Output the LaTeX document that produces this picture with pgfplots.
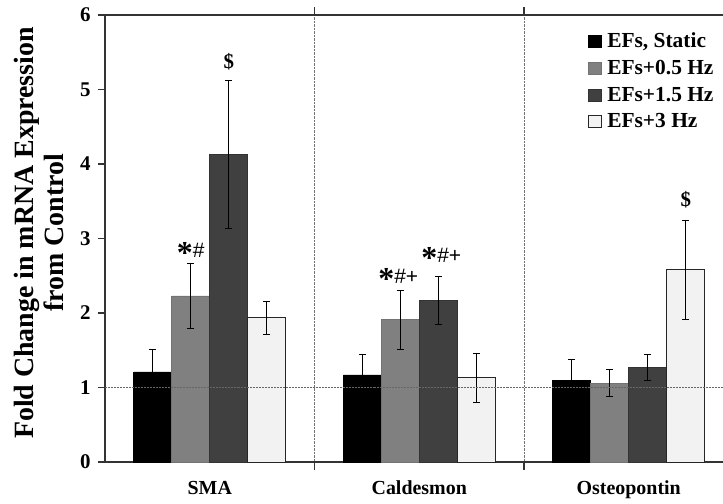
\documentclass[border=0pt]{standalone}
\usepackage{fontspec}
\setmainfont{Liberation Serif}
\setsansfont{Liberation Sans}
\usepackage{pgfplots}
\usepackage{pgfplotstable}
\pgfplotsset{compat=1.18}

\definecolor{cStatic}{RGB}{0,0,0}
\definecolor{cHalf}{RGB}{128,128,128}
\definecolor{cOneHalf}{RGB}{64,64,64}
\definecolor{cThree}{RGB}{242,242,242}

% x: 0 = SMA, 1 = Caldesmon, 2 = Osteopontin
\pgfplotstableread{
x y e
0 1.21 0.30
1 1.17 0.27
2 1.10 0.28
}\staticdata
\pgfplotstableread{
x y e
0 2.23 0.44
1 1.91 0.40
2 1.06 0.18
}\halfdata
\pgfplotstableread{
x y e
0 4.13 0.99
1 2.17 0.32
2 1.27 0.18
}\onehalfdata
\pgfplotstableread{
x y e
0 1.94 0.22
1 1.13 0.33
2 2.58 0.67
}\threedata

\pgfplotsset{
  sq legend/.style={legend image code/.code={%
      \draw[##1, line width=0.4pt] (0bp,-6bp) rectangle (13bp,6bp);}},
  errs/.style={error bars/.cd, y dir=both, y explicit,
      error bar style={line width=0.6pt, black},
      error mark options={rotate=90, mark size=3.5bp, line width=0.6pt, black},
      /pgfplots/.cd},
}
\newcommand{\sigstar}{\raisebox{-6bp}{\fontsize{32}{32}\selectfont\bfseries *}}
\newcommand{\sig}[1]{{\fontsize{21}{21}\selectfont\sffamily #1}}

\begin{document}
\begin{tikzpicture}
\useasboundingbox (0,0) rectangle (723bp,504bp);
\begin{axis}[
  at={(105bp,42bp)}, anchor=south west,
  scale only axis, width=628.5bp, height=447bp,
  xmin=-0.5, xmax=2.5, ymin=0, ymax=6,
  ybar=0pt, bar width=38bp,
  axis line style={line width=1.3pt, black!80},
  tick align=outside,
  ytick={0,1,...,6},
  major tick length=7bp, minor tick length=8bp,
  ytick style={line width=1.1pt, black!80},
  xtick={0,1,2}, xticklabels={SMA,Caldesmon,Osteopontin},
  major x tick style={draw=none},
  minor xtick={0.5,1.5},
  minor x tick style={line width=1.1pt, black!80},
  xminorgrids=true,
  minor x grid style={densely dotted, line width=0.5pt, black!55},
  /pgf/number format/assume math mode=true,
  yticklabel style={font=\fontsize{21}{21}\selectfont\bfseries, xshift=-4bp},
  xticklabel style={font=\fontsize{20}{20}\selectfont\bfseries,
      text height=14bp, text depth=4bp, yshift=-8bp},
  legend style={at={(0.768,0.965)}, anchor=north west, draw=none, fill=none,
      font=\fontsize{21.5}{21.5}\selectfont\bfseries, row sep=7bp, inner sep=0pt,
      /tikz/every odd column/.style={column sep=4bp}},
  legend cell align=left,
  clip=false,
]
\addplot[fill=cStatic, draw=black, line width=0.6pt, sq legend, errs]
  table[x=x, y=y, y error=e]{\staticdata};
\addplot[fill=cHalf, draw=black!55, line width=0.6pt, sq legend, errs]
  table[x=x, y=y, y error=e]{\halfdata};
\addplot[fill=cOneHalf, draw=black!80, line width=0.6pt, sq legend, errs]
  table[x=x, y=y, y error=e]{\onehalfdata};
\addplot[fill=cThree, draw=black!85, line width=0.8pt, sq legend, errs]
  table[x=x, y=y, y error=e]{\threedata};
\legend{{EFs, Static}, EFs+0.5 Hz, EFs+1.5 Hz, EFs+3 Hz}

% reference level: no change from control
\draw[densely dotted, line width=0.5pt, black!60]
  (axis cs:-0.5,1) -- (axis cs:2.5,1);

% significance markers
\node[anchor=base, inner sep=0pt] at (axis cs:-0.0907,2.74) {\sigstar\sig{\#}};
\node[anchor=base, inner sep=0pt, font=\fontsize{21}{21}\selectfont\bfseries] at (axis cs:0.0907,5.28) {\$};
\node[anchor=base, inner sep=0pt] at (axis cs:0.90,2.40) {\sigstar\sig{\#+}};
\node[anchor=base, inner sep=0pt] at (axis cs:1.105,2.68) {\sigstar\sig{\#+}};
\node[anchor=base, inner sep=0pt, font=\fontsize{21}{21}\selectfont\bfseries] at (axis cs:2.272,3.43) {\$};
\end{axis}
\node[rotate=90, align=center, font=\fontsize{28}{30}\selectfont\bfseries]
  at (39bp,271bp) {Fold Change in mRNA Expression\\from Control};
\end{tikzpicture}
\end{document}
